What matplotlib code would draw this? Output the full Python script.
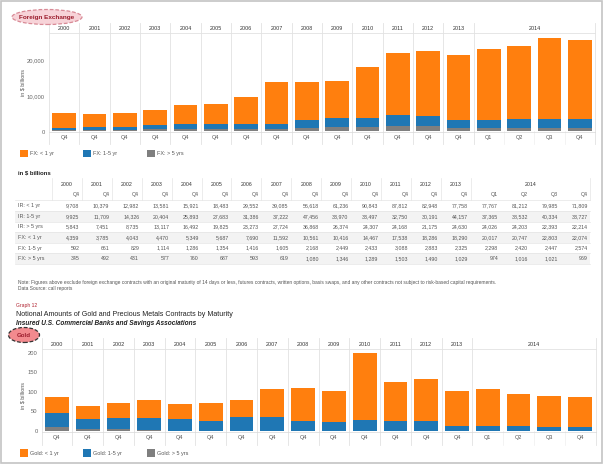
import matplotlib.pyplot as plt
import matplotlib.transforms as mtransforms
from matplotlib.patches import Rectangle, Ellipse
from matplotlib.lines import Line2D

plt.rcParams['font.family'] = ['Liberation Sans', 'DejaVu Sans']

W, H = 604, 465

# ---- data ----
year_labels = ["2000", "2001", "2002", "2003", "2004", "2005", "2006", "2007",
               "2008", "2009", "2010", "2011", "2012", "2013", "2014"]
quarter_labels = ["Q4"] * 14 + ["Q1", "Q2", "Q3", "Q4"]

row_names = ["IR: < 1 yr", "IR: 1-5 yr", "IR: > 5 yrs",
             "FX: < 1 yr", "FX: 1-5 yr", "FX: > 5 yrs"]
ir_lt1 = [9708, 10379, 12982, 13581, 15921, 18483, 29552, 39085, 56618, 61236,
          90843, 87812, 82948, 77758, 77767, 81212, 79985, 71809]
ir_1to5 = [9925, 11709, 14326, 20404, 25893, 27683, 31386, 37222, 47456, 33970,
           33497, 32750, 30191, 44157, 37365, 38532, 40334, 33727]
ir_gt5 = [5843, 7451, 8735, 13117, 16492, 19825, 23273, 27724, 36868, 26374,
          24307, 24168, 21175, 24630, 24026, 24203, 22393, 22214]
fx_lt1 = [4359, 3785, 4043, 4470, 5349, 5687, 7690, 11592, 10561, 10416,
          14467, 17538, 18286, 18290, 20017, 20747, 22803, 22074]
fx_1to5 = [592, 661, 829, 1114, 1286, 1354, 1416, 1605, 2168, 2449,
           2433, 3088, 2883, 2325, 2298, 2420, 2447, 2574]
fx_gt5 = [345, 492, 431, 577, 760, 687, 593, 619, 1080, 1346,
          1289, 1503, 1490, 1029, 974, 1016, 1021, 969]

# gold values (in $ billions)
gold_lt1 = [42, 33, 39, 46, 38, 45, 43, 72, 84, 80, 172, 100, 108, 90, 95, 81, 80, 76]
gold_1to5 = [35, 25, 28, 31, 30, 25, 35, 35, 25, 22, 26, 25, 24, 11, 12, 12, 9, 9]
gold_gt5 = [11, 5, 5, 2, 1, 1, 1, 1, 1, 1, 1, 1, 1, 1, 1, 1, 1, 1]

ORANGE = '#ff7f0e'
BLUE = '#1f77b4'
GRAY = '#7f7f7f'
LINE = '#e2e2e2'


def fx(px):
    return px / W


def fy(py):
    return 1 - py / H


fig = plt.figure(figsize=(W / 100, H / 100), dpi=100)

# outer frame
fig.add_artist(Rectangle((fx(1), fy(463)), fx(601), 462 / H, transform=fig.transFigure,
                         fill=False, edgecolor='#c4c4c4', lw=1.2))


def badge(cx, cy, w, h, text, face, edge, tsize):
    fig.add_artist(Ellipse((fx(cx), fy(cy)), w / W, h / H, transform=fig.transFigure,
                           facecolor=face, edgecolor=edge, lw=0.9, linestyle=(0, (3, 1.5))))
    fig.text(fx(cx), fy(cy), text, ha='center', va='center', fontsize=tsize,
             color='#9b1c2c', fontweight='bold')


def stacked_chart(left, right, top, base, ymax, yticks, yticklabels, lt1, mid, gt5,
                  head_top, head_line, year_y, q_y, band_bottom, ylab_x, ylab_y, pad):
    ax = fig.add_axes([fx(left), fy(base), (right - left) / W, (base - top) / H])
    n = len(lt1)
    x = list(range(n))
    midtop = [a + b for a, b in zip(gt5, mid)]
    ax.bar(x, gt5, width=0.77, color=GRAY)
    ax.bar(x, mid, width=0.77, bottom=gt5, color=BLUE)
    ax.bar(x, lt1, width=0.77, bottom=midtop, color=ORANGE)
    ax.set_xlim(-0.5, n - 0.5)
    ax.set_ylim(0, ymax)
    for s in ax.spines.values():
        s.set_visible(False)
    ax.set_xticks([])
    ax.set_yticks(yticks)
    ax.set_yticklabels(yticklabels, fontsize=4.2, color='#666666')
    ax.tick_params(axis='y', length=0, pad=pad)

    # column separators, header rule and baseline
    tr = mtransforms.blended_transform_factory(ax.transData, fig.transFigure)
    bounds = [i - 0.5 for i in range(15)] + [n - 0.5]
    for b in bounds:
        ax.add_line(Line2D([b, b], [fy(head_top), fy(band_bottom)], transform=tr,
                           color=LINE, lw=0.6, clip_on=False))
    for b in [14.5, 15.5, 16.5]:
        ax.add_line(Line2D([b, b], [fy(base), fy(band_bottom)], transform=tr,
                           color='#efefef', lw=0.5, clip_on=False))
    ax.add_line(Line2D([-0.5, n - 0.5], [fy(head_line)] * 2, transform=tr,
                       color=LINE, lw=0.6, clip_on=False))
    ax.add_line(Line2D([-0.5, n - 0.5], [fy(base + 0.5)] * 2, transform=tr,
                       color='#d8d8d8', lw=0.5, clip_on=False))
    for i, yl in enumerate(year_labels[:14]):
        ax.text(i, fy(year_y), yl, transform=tr, ha='center', va='center',
                fontsize=3.9, color='#333333')
    ax.text(15.5, fy(year_y), year_labels[14], transform=tr, ha='center', va='center',
            fontsize=3.9, color='#333333')
    for i, ql in enumerate(quarter_labels):
        ax.text(i, fy(q_y), ql, transform=tr, ha='center', va='center',
                fontsize=4.0, color='#555555')
    fig.text(fx(ylab_x), fy(ylab_y), "in $ billions", rotation=90, ha='center',
             va='center', fontsize=3.9, color='#555555')
    return ax


def legend_row(y, names):
    for xs, name, col in zip([20, 83, 147], names, [ORANGE, BLUE, GRAY]):
        fig.add_artist(Rectangle((fx(xs), fy(y + 3.5)), 7.5 / W, 7.5 / H,
                                 transform=fig.transFigure, color=col, lw=0))
        fig.text(fx(xs + 10), fy(y), name, ha='left', va='center', fontsize=4.0,
                 color='#555555')


# ---- Foreign exchange chart ----
badge(47, 17, 70, 15, "Foreign Exchange", '#f7d3d8', '#d88a96', 4.6)
stacked_chart(49, 595, 33, 131.5, 27700, [0, 10000, 20000], ["0", "10,000", "20,000"],
              fx_lt1, fx_1to5, fx_gt5, 23, 33, 28, 137.5, 144, 23, 82, 3.2)
legend_row(154, ["FX: < 1 yr", "FX: 1-5 yr", "FX: > 5 yrs"])

# ---- table ----
fig.text(fx(18), fy(173), "in $ billions", ha='left', va='center', fontsize=4.3,
         color='#222222', fontweight='bold')
col0 = 52.0
colw = 29.9
tab_left, tab_right = 15, col0 + colw * 18
row_y0 = 205.7
row_h = 10.6
for r in range(6):
    yc = row_y0 + r * row_h
    if r % 2 == 1:
        fig.add_artist(Rectangle((fx(tab_left), fy(yc + row_h / 2)), (tab_right - tab_left) / W,
                                 row_h / H, transform=fig.transFigure, color='#f3f3f3', lw=0))
    fig.add_artist(Line2D([fx(tab_left), fx(tab_right)], [fy(yc - row_h / 2)] * 2,
                          transform=fig.transFigure, color='#e4e4e4', lw=0.5))
fig.add_artist(Line2D([fx(tab_left), fx(tab_right)], [fy(row_y0 + 5.5 * row_h)] * 2,
                      transform=fig.transFigure, color='#e4e4e4', lw=0.5))
for c in list(range(15)) + [18]:
    xb = col0 + c * colw
    fig.add_artist(Line2D([fx(xb), fx(xb)], [fy(178), fy(row_y0 - row_h / 2)],
                          transform=fig.transFigure, color='#e4e4e4', lw=0.5))
for c in range(14):
    fig.text(fx(col0 + (c + 0.5) * colw), fy(184), year_labels[c], ha='center', va='center',
             fontsize=3.8, color='#333333')
fig.text(fx(col0 + 16 * colw), fy(184), year_labels[14], ha='center', va='center',
         fontsize=3.8, color='#333333')
for c, ql in enumerate(quarter_labels):
    fig.text(fx(col0 + (c + 1) * colw - 2.5), fy(194.5), ql, ha='right', va='center',
             fontsize=3.8, color='#555555')
table_rows = [ir_lt1, ir_1to5, ir_gt5, fx_lt1, fx_1to5, fx_gt5]
for r, (name, vals) in enumerate(zip(row_names, table_rows)):
    yc = row_y0 + r * row_h
    fig.text(fx(18), fy(yc), name, ha='left', va='center', fontsize=3.9, color='#555555')
    for c, v in enumerate(vals):
        fig.text(fx(col0 + (c + 1) * colw - 2.5), fy(yc), f"{v:,}", ha='right',
                 va='center', fontsize=3.8, color='#555555')

fig.text(fx(18), fy(282.5), "Note: Figures above exclude foreign exchange contracts with an original "
         "maturity of 14 days or less, futures contracts, written options, basis swaps, and any other "
         "contracts not subject to risk-based capital requirements.",
         ha='left', va='center', fontsize=3.55, color='#555555')
fig.text(fx(18), fy(288.5), "Data Source: call reports", ha='left', va='center', fontsize=3.55,
         color='#555555')

# ---- gold section ----
fig.text(fx(16), fy(305.5), "Graph 12", ha='left', va='center', fontsize=3.6, color='#b0222f')
fig.text(fx(16), fy(315), "Notional Amounts of Gold and Precious Metals Contracts by Maturity",
         ha='left', va='center', fontsize=5.1, color='#222222')
fig.text(fx(16), fy(323.5), "Insured U.S. Commercial Banks and Savings Associations",
         ha='left', va='center', fontsize=4.7, color='#222222', style='italic', fontweight='bold')
badge(24, 335, 31, 15, "Gold", '#f28a8e', '#333333', 4.4)
stacked_chart(41.5, 595.5, 349, 431, 210, [0, 50, 100, 150, 200],
              ["0", "50", "100", "150", "200"],
              gold_lt1, gold_1to5, gold_gt5, 338, 349, 344, 437.5, 445, 23, 395, 2.8)
legend_row(453, ["Gold: < 1 yr", "Gold: 1-5 yr", "Gold: > 5 yrs"])

fig.savefig("out.png", dpi=100)
